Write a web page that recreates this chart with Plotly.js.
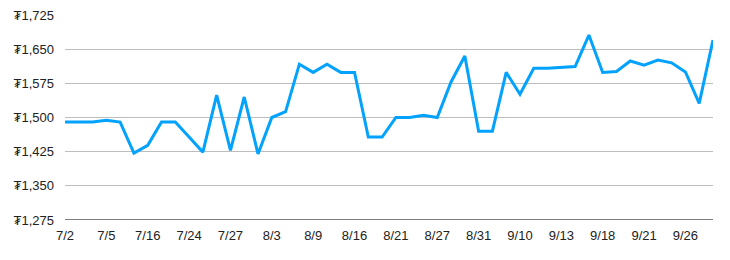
<!DOCTYPE html>
<html>
<head>
<meta charset="utf-8">
<script src="https://cdn.plot.ly/plotly-3.0.1.min.js"></script>
<style>html,body{margin:0;padding:0;background:#fff}#chart{width:730px;height:260px}</style>
</head>
<body>
<div id="chart"></div>
<script>
// Dates (categories), one per point
const dates = [
  "7/2","7/3","7/4","7/5","7/9","7/12","7/16","7/19","7/22","7/24",
  "7/25","7/26","7/27","7/30","8/1","8/3","8/6","8/7","8/9","8/13",
  "8/15","8/16","8/17","8/20","8/21","8/23","8/24","8/27","8/28","8/30",
  "8/31","9/3","9/6","9/10","9/11","9/12","9/13","9/14","9/17","9/18",
  "9/19","9/20","9/21","9/24","9/25","9/26","9/27","9/28"
];
// Prices (₮)
const prices = [
  1490,1490,1490,1494,1490,1422,1439,1490,1490,1457,
  1424,1549,1428,1545,1420,1500,1513,1617,1599,1617,
  1599,1599,1457,1457,1500,1500,1505,1500,1578,1635,
  1470,1470,1599,1551,1608,1608,1610,1612,1681,1599,
  1601,1624,1615,1626,1620,1600,1531,1670
];
// Labelled ticks on the x axis
const xTickLabels = ["7/2","7/5","7/16","7/24","7/27","8/3","8/9","8/16","8/21","8/27","8/31","9/10","9/13","9/18","9/21","9/26"];
const yTicks = [1275,1350,1425,1500,1575,1650,1725];
const yTickLabels = ["\u20AE1,275","\u20AE1,350","\u20AE1,425","\u20AE1,500","\u20AE1,575","\u20AE1,650","\u20AE1,725"];

const trace = {
  x: dates, y: prices, type: "scatter", mode: "lines",
  line: {color: "#03a2fc", width: 3},
  hoverinfo: "skip"
};
const fam = "Liberation Sans, DejaVu Sans, sans-serif";
const layout = {
  width: 730, height: 260,
  margin: {l: 65, r: 17, t: 15, b: 40},
  paper_bgcolor: "#fff", plot_bgcolor: "#fff",
  showlegend: false,
  font: {family: fam, size: 13, color: "#222"},
  xaxis: {
    type: "category",
    range: [0, dates.length - 1],
    tickmode: "array", tickvals: xTickLabels, ticktext: xTickLabels,
    showgrid: false, zeroline: false,
    showline: false, ticks: "",
    tickangle: 0,
    ticklabelstandoff: 6,
    tickfont: {family: fam, size: 13, color: "#222"}
  },
  yaxis: {
    range: [1275, 1725],
    tickmode: "array", tickvals: yTicks, ticktext: yTickLabels,
    showgrid: true, gridcolor: "#bdbdbd", gridwidth: 1,
    zeroline: false, showline: false, ticks: "",
    ticklabelstandoff: 10,
    tickfont: {family: fam, size: 13, color: "#222"}
  },
  shapes: [{
    type: "line", xref: "paper", yref: "y",
    x0: 0, x1: 1, y0: 1275, y1: 1275,
    line: {color: "#000", width: 1}
  }]
};
Plotly.newPlot("chart", [trace], layout, {displayModeBar: false, staticPlot: true});
</script>
</body>
</html>
